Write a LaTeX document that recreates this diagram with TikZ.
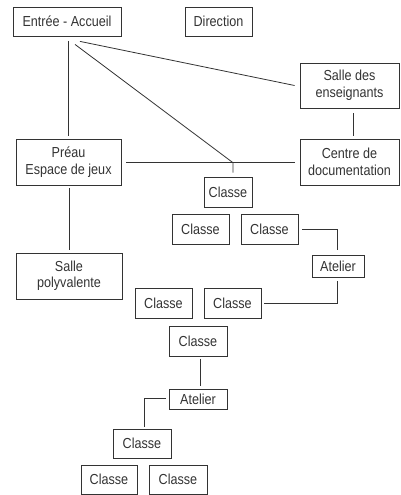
\documentclass[tikz,border=0pt]{standalone}
\usepackage{fontspec}
\usepackage{graphicx}
\setmainfont{Liberation Sans}
\usetikzlibrary{calc}
\definecolor{ink}{HTML}{333333}
\newcommand{\tallt}[1]{\scalebox{1}[1.15]{#1}}
\begin{document}
\begin{tikzpicture}[x=1pt,y=-1pt,
  room/.style={draw=ink,line width=0.8pt,inner sep=0pt,text=ink,align=center,
    font=\fontsize{12.6}{16.5}\selectfont},
  link/.style={draw=ink,line width=0.8pt}]
\useasboundingbox (0,0) rectangle (400,495);
\node[room,minimum width=108pt,minimum height=29pt] (entree) at (67,21.5) {\tallt{Entrée - Accueil}};
\node[room,minimum width=67pt,minimum height=29pt] (direction) at (218.5,21.5) {\tallt{Direction}};
\node[room,minimum width=99pt,minimum height=45pt] (sens) at (349.5,85.5) {\tallt{Salle des}\\\tallt{enseignants}};
\node[room,minimum width=99pt,minimum height=46pt] (centre) at (349.5,162) {\tallt{Centre de}\\\tallt{documentation}};
\node[room,minimum width=105pt,minimum height=46pt] (preau) at (68.5,162) {\tallt{Préau}\\\tallt{Espace de jeux}};
\node[room,minimum width=106pt,minimum height=46pt] (spoly) at (69,276) {\tallt{Salle}\\\tallt{polyvalente}};
\node[room,minimum width=48pt,minimum height=30pt] (c1) at (228,192) {\tallt{Classe}};
\node[room,minimum width=57pt,minimum height=30pt] (c2) at (200.5,229) {\tallt{Classe}};
\node[room,minimum width=57pt,minimum height=30pt] (c3) at (269.5,229) {\tallt{Classe}};
\node[room,minimum width=52pt,minimum height=22pt] (at1) at (338,266) {\tallt{Atelier}};
\node[room,minimum width=57pt,minimum height=30pt] (c4) at (163.5,303) {\tallt{Classe}};
\node[room,minimum width=57pt,minimum height=30pt] (c5) at (232.5,303) {\tallt{Classe}};
\node[room,minimum width=58pt,minimum height=30pt] (c6) at (198,341) {\tallt{Classe}};
\node[room,minimum width=58pt,minimum height=20pt] (at2) at (198,399) {\tallt{Atelier}};
\node[room,minimum width=58pt,minimum height=29pt] (c7) at (142,443.5) {\tallt{Classe}};
\node[room,minimum width=56pt,minimum height=29pt] (c8) at (109,479.5) {\tallt{Classe}};
\node[room,minimum width=58pt,minimum height=29pt] (c9) at (178,479.5) {\tallt{Classe}};
\coordinate (j) at (233,162.7);
% connectors
\draw[link] ($(entree.south)+(1.3,4.5)$) -- ($(preau.north)+(-0.2,-2.5)$);
\draw[link] ($(entree.south)+(13,5)$) -- ($(sens.west)+(-5,0)$);
\draw[link] ($(entree.south)+(8,8)$) -- (j) -- ($(c1.north)+(5,-4)$);
\draw[link] ($(preau.east)+(5,0.7)$) -- ($(centre.west)+(-5,0.7)$);
\draw[link] ($(sens.south)+(3.5,5)$) -- ($(centre.north)+(3.5,-3)$);
\draw[link] ($(c3.east)+(4,0)$) -| ($(at1.north)+(-1,-5)$);
\draw[link] ($(at1.south)+(-1,4)$) |- ($(c5.east)+(3,0)$);
\draw[link] ($(preau.south)+(0.5,3)$) -- ($(spoly.north)+(0,-3)$);
\draw[link] ($(c6.south)+(2,2.5)$) -- ($(at2.north)+(2,-3)$);
\draw[link] ($(at2.west)+(-3,-1)$) -| ($(c7.north)+(2,-2)$);
\end{tikzpicture}
\end{document}
